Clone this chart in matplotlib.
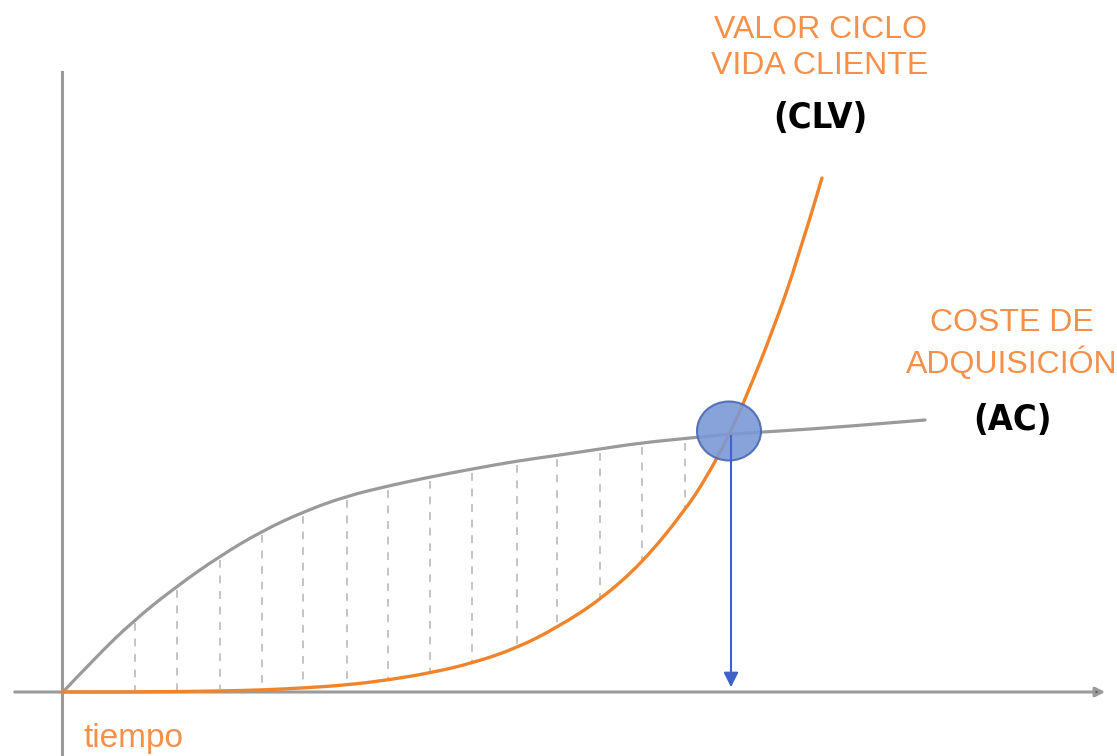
import numpy as np
import matplotlib.pyplot as plt
from matplotlib.patches import Ellipse, PathPatch
from matplotlib.path import Path

# curve samples (pixel space, y grows downwards)
ac_x = [62, 93, 133, 177, 220, 262, 305, 347, 388, 430,
        472, 517, 560, 600, 640, 690, 730, 780, 840, 925]
ac_y = [693, 660, 621, 586, 556, 531, 511, 496, 486, 477,
        469, 461, 455, 449, 443, 438, 434, 431, 427, 420]

clv_x = [62, 150, 220, 262, 303, 347, 388, 430, 473, 517, 558, 600, 642, 683,
         707, 730, 747, 773, 797, 822]
clv_y = [692, 692, 691, 690, 688, 685, 680, 673, 663, 648, 627, 600, 563, 513,
         477, 433, 395, 330, 262, 178]

hatch_x = [135, 177, 220, 262, 303, 347, 388, 430, 472, 517, 557, 600, 642, 685]

cross_x, cross_y = 729, 431

ORANGE = "#f0842c"
ORANGE_TXT = "#f5904a"
GREY = "#9a9a9a"
BLUE = "#3d63c8"


def smooth_path(xs, ys):
    # quadratic b-spline style path: read points act as control points
    pts = np.column_stack([xs, ys]).astype(float)
    verts = [pts[0]]
    codes = [Path.MOVETO]
    for i in range(1, len(pts) - 1):
        mid = (pts[i] + pts[i + 1]) / 2 if i < len(pts) - 2 else pts[i + 1]
        verts += [pts[i], mid]
        codes += [Path.CURVE3, Path.CURVE3]
    return Path(verts, codes)


fig = plt.figure(figsize=(11.17, 7.56), dpi=100)
ax = fig.add_axes([0, 0, 1, 1])
ax.set_xlim(0, 1117)
ax.set_ylim(756, 0)
ax.axis("off")

# axes of the diagram
ax.plot([62, 62], [72, 756], color=GREY, lw=2.2, zorder=1)
ax.annotate("", xy=(1108, 692), xytext=(12, 692),
            arrowprops=dict(arrowstyle="-|>", color=GREY, lw=2.2,
                            mutation_scale=14, fc="#555555", ec=GREY))

# dashed verticals between the two curves
top = np.interp(hatch_x, ac_x, ac_y)
bot = np.interp(hatch_x, clv_x, clv_y)
ax.vlines(hatch_x, top + 4, bot - 2, colors="#c4c4c4", linestyles=(0, (4, 4)), lw=1.4, zorder=2)

ax.add_patch(PathPatch(smooth_path(ac_x, ac_y), fill=False, ec=GREY, lw=2.3,
                       capstyle="round", zorder=3))
ax.add_patch(PathPatch(smooth_path(clv_x, clv_y), fill=False, ec=ORANGE, lw=2.4,
                       capstyle="round", zorder=4))

# intersection marker and arrow down to the time axis
ax.add_patch(Ellipse((cross_x, cross_y), 64, 59, facecolor="#7b98d6", edgecolor="#4a69b0",
                     lw=1.5, alpha=0.9, zorder=5))
ax.annotate("", xy=(731, 690), xytext=(731, cross_y + 2),
            arrowprops=dict(arrowstyle="-|>", color=BLUE, lw=1.5, mutation_scale=22),
            zorder=6)

# labels
ax.text(820, 48, "VALOR CICLO\nVIDA CLIENTE", color=ORANGE_TXT, fontsize=23,
        family="Liberation Sans", ha="center", va="center", linespacing=1.3)
ax.text(820, 118, "(CLV)", color="black", fontsize=26, family="DejaVu Sans",
        fontweight="heavy", fontstretch="condensed", ha="center", va="center")
ax.text(1012, 344, "COSTE DE\nADQUISICIÓN", color=ORANGE_TXT, fontsize=23,
        family="Liberation Sans", ha="center", va="center", linespacing=1.3)
ax.text(1012, 420, "(AC)", color="black", fontsize=26, family="DejaVu Sans",
        fontweight="heavy", fontstretch="condensed", ha="center", va="center")
ax.text(84, 738, "tiempo", color=ORANGE_TXT, fontsize=24, family="Liberation Sans",
        ha="left", va="center")

fig.savefig("out.png", dpi=100)
